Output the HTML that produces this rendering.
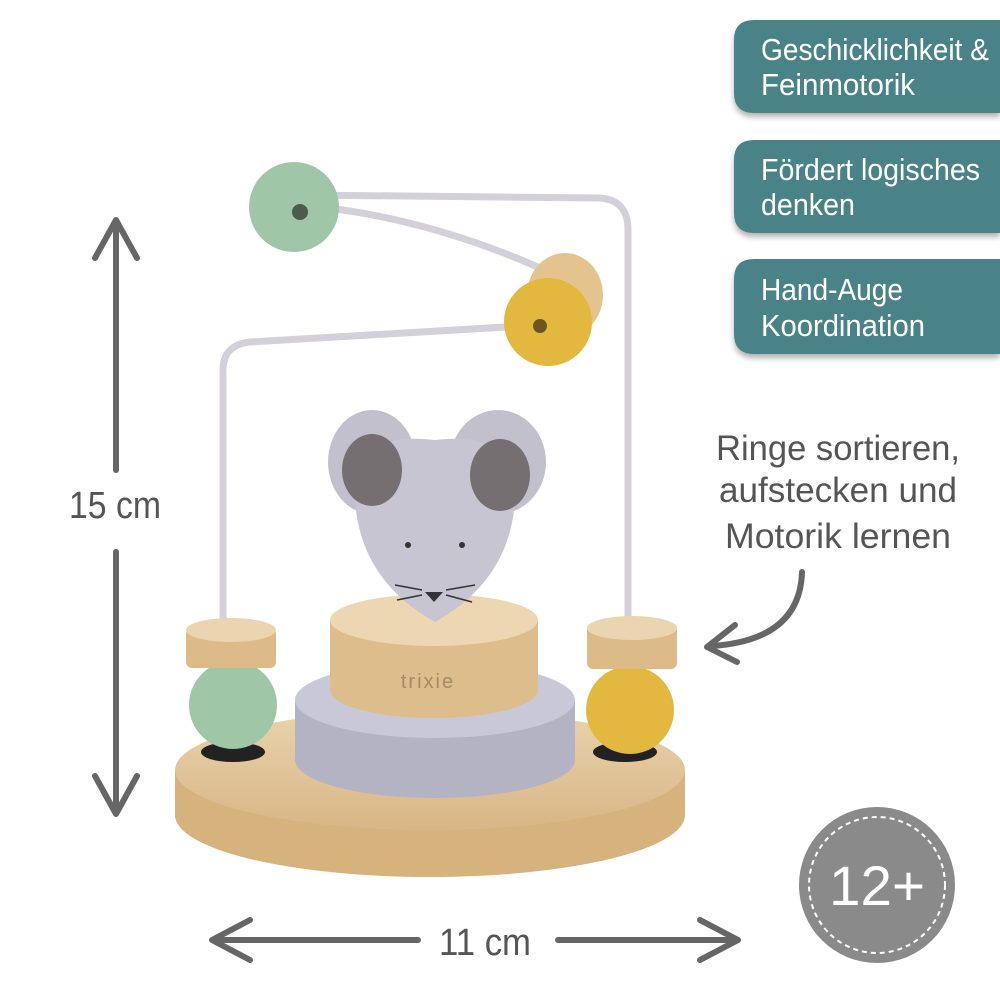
<!DOCTYPE html>
<html><head><meta charset="utf-8"><style>
html,body{margin:0;padding:0;background:#fff;}
svg{display:block}
text{font-family:"Liberation Sans Narrow","Liberation Sans",sans-serif;}
</style></head><body>
<svg width="1000" height="1000" viewBox="0 0 1000 1000" xmlns="http://www.w3.org/2000/svg">
<defs>
<filter id="sh" x="-10%" y="-10%" width="130%" height="140%"><feDropShadow dx="0" dy="4" stdDeviation="3" flood-color="#000" flood-opacity="0.3"/></filter>
<linearGradient id="wood" x1="0" x2="0" y1="0" y2="1"><stop offset="0" stop-color="#e9d3ae"/><stop offset="1" stop-color="#d8b685"/></linearGradient>
</defs>
<rect width="1000" height="1000" fill="#fff"/>

<!-- badges -->
<g filter="url(#sh)" fill="#4a8388">
<path d="M754 20 H1000 V113 H754 Q734 113 734 93 V40 Q734 20 754 20Z"/>
<path d="M754 140 H1000 V233 H754 Q734 233 734 213 V160 Q734 140 754 140Z"/>
<path d="M754 259 H1000 V354 H754 Q734 354 734 334 V279 Q734 259 754 259Z"/>
</g>
<g fill="#fff" font-size="31">
<text x="761" y="60" textLength="228" lengthAdjust="spacingAndGlyphs">Geschicklichkeit &amp;</text>
<text x="761" y="95" textLength="154" lengthAdjust="spacingAndGlyphs">Feinmotorik</text>
<text x="761" y="180" textLength="219" lengthAdjust="spacingAndGlyphs">Fördert logisches</text>
<text x="761" y="215" textLength="94" lengthAdjust="spacingAndGlyphs">denken</text>
<text x="761" y="300" textLength="142" lengthAdjust="spacingAndGlyphs">Hand-Auge</text>
<text x="761" y="336" textLength="164" lengthAdjust="spacingAndGlyphs">Koordination</text>
</g>

<!-- right caption -->
<g fill="#555" font-size="35" text-anchor="middle">
<text x="838" y="460" textLength="244" lengthAdjust="spacingAndGlyphs">Ringe sortieren,</text>
<text x="838" y="502" textLength="238" lengthAdjust="spacingAndGlyphs">aufstecken und</text>
<text x="838" y="548" textLength="226" lengthAdjust="spacingAndGlyphs">Motorik lernen</text>
</g>
<path d="M802 572 Q800 640 712 646" fill="none" stroke="#666" stroke-width="6" stroke-linecap="round"/>
<path d="M735 625 L707 647 L737 662" fill="none" stroke="#666" stroke-width="6" stroke-linecap="round" stroke-linejoin="round"/>

<!-- vertical dimension -->
<g stroke="#666" stroke-width="6" stroke-linecap="round" fill="none" stroke-linejoin="round">
<line x1="116" y1="222" x2="116" y2="470"/>
<path d="M95 258 L116 220 L137 258"/>
<line x1="116" y1="552" x2="116" y2="812"/>
<path d="M95 776 L116 814 L137 776"/>
<line x1="215" y1="940" x2="418" y2="940"/>
<path d="M250 920 L212 940 L250 960"/>
<line x1="558" y1="940" x2="735" y2="940"/>
<path d="M700 920 L738 940 L700 960"/>
</g>
<text x="115" y="518" font-size="38" fill="#555" text-anchor="middle" textLength="92" lengthAdjust="spacingAndGlyphs">15 cm</text>
<text x="485" y="955" font-size="38" fill="#555" text-anchor="middle" textLength="92" lengthAdjust="spacingAndGlyphs">11 cm</text>

<!-- age badge -->
<circle cx="877" cy="885" r="78" fill="#8a8a8a"/>
<circle cx="877" cy="885" r="68" fill="none" stroke="#fff" stroke-width="2" stroke-dasharray="5 4"/>
<text x="877" y="905" font-size="56" fill="#fff" text-anchor="middle" textLength="96" lengthAdjust="spacingAndGlyphs">12+</text>

<!-- toy -->
<!-- base -->
<path d="M175 770 L175 815 A255 62 0 0 0 685 815 L685 770 Z" fill="#d6b27c"/>
<ellipse cx="430" cy="770" rx="255" ry="60" fill="url(#wood)"/>
<!-- wires -->
<g fill="none" stroke="#d4d0da" stroke-width="7">
<path d="M223 650 L223 370 Q223 345 250 342 L540 325"/>
<path d="M628 640 L628 230 Q628 200 600 198 L300 195"/>
<path d="M300 205 Q420 215 540 268"/>
</g>
<!-- lilac ring -->
<path d="M295 700 L295 760 A140 38 0 0 0 575 760 L575 700 Z" fill="#b4b3c4"/>
<ellipse cx="435" cy="700" rx="140" ry="38" fill="#c9c8d6"/>
<!-- wood ring -->
<path d="M330 620 L330 690 A104 28 0 0 0 538 690 L538 620 Z" fill="#dcbd8b"/>
<ellipse cx="434" cy="620" rx="104" ry="26" fill="#ecd7b2"/>
<text x="428" y="688" font-size="20" fill="#a58a64" text-anchor="middle" letter-spacing="2" font-family="Liberation Sans,sans-serif">trixie</text>
<!-- mouse -->
<g>
<ellipse cx="372" cy="462" rx="44" ry="52" fill="#c1c0cc"/>
<ellipse cx="498" cy="462" rx="48" ry="52" fill="#c1c0cc"/>
<path d="M355 500 Q350 430 435 440 Q520 430 515 500 Q510 580 435 622 Q360 580 355 500Z" fill="#c6c5d1"/>
<ellipse cx="372" cy="470" rx="30" ry="36" fill="#756f71"/>
<ellipse cx="500" cy="475" rx="30" ry="36" fill="#756f71"/>
<circle cx="408" cy="545" r="3" fill="#333"/><circle cx="462" cy="545" r="3" fill="#333"/>
<path d="M425 592 L443 592 L434 602Z" fill="#333"/>
<g stroke="#333" stroke-width="1.5"><line x1="395" y1="585" x2="422" y2="590"/><line x1="397" y1="600" x2="422" y2="595"/><line x1="446" y1="590" x2="475" y2="585"/><line x1="446" y1="595" x2="472" y2="602"/></g>
</g>
<!-- beads -->
<circle cx="294" cy="207" r="45" fill="#9fc6a6"/><circle cx="300" cy="212" r="8" fill="#4b5b4c"/>
<ellipse cx="565" cy="295" rx="38" ry="42" fill="#e5c38f"/>
<circle cx="548" cy="322" r="44" fill="#e3b83e"/><circle cx="540" cy="326" r="7" fill="#6b5520"/>
<!-- left post -->
<ellipse cx="233" cy="752" rx="32" ry="10" fill="#222"/>
<circle cx="233" cy="705" r="44" fill="#9fc6a6"/>
<rect x="186" y="628" width="90" height="40" rx="6" fill="#dcbb88"/>
<ellipse cx="231" cy="630" rx="45" ry="12" fill="#ebd5b0"/>
<!-- right post -->
<ellipse cx="625" cy="752" rx="32" ry="10" fill="#222"/>
<circle cx="630" cy="710" r="44" fill="#e3b83e"/>
<rect x="587" y="625" width="90" height="44" rx="6" fill="#dcbb88"/>
<ellipse cx="632" cy="628" rx="45" ry="12" fill="#ebd5b0"/>
</svg>
</body></html>
